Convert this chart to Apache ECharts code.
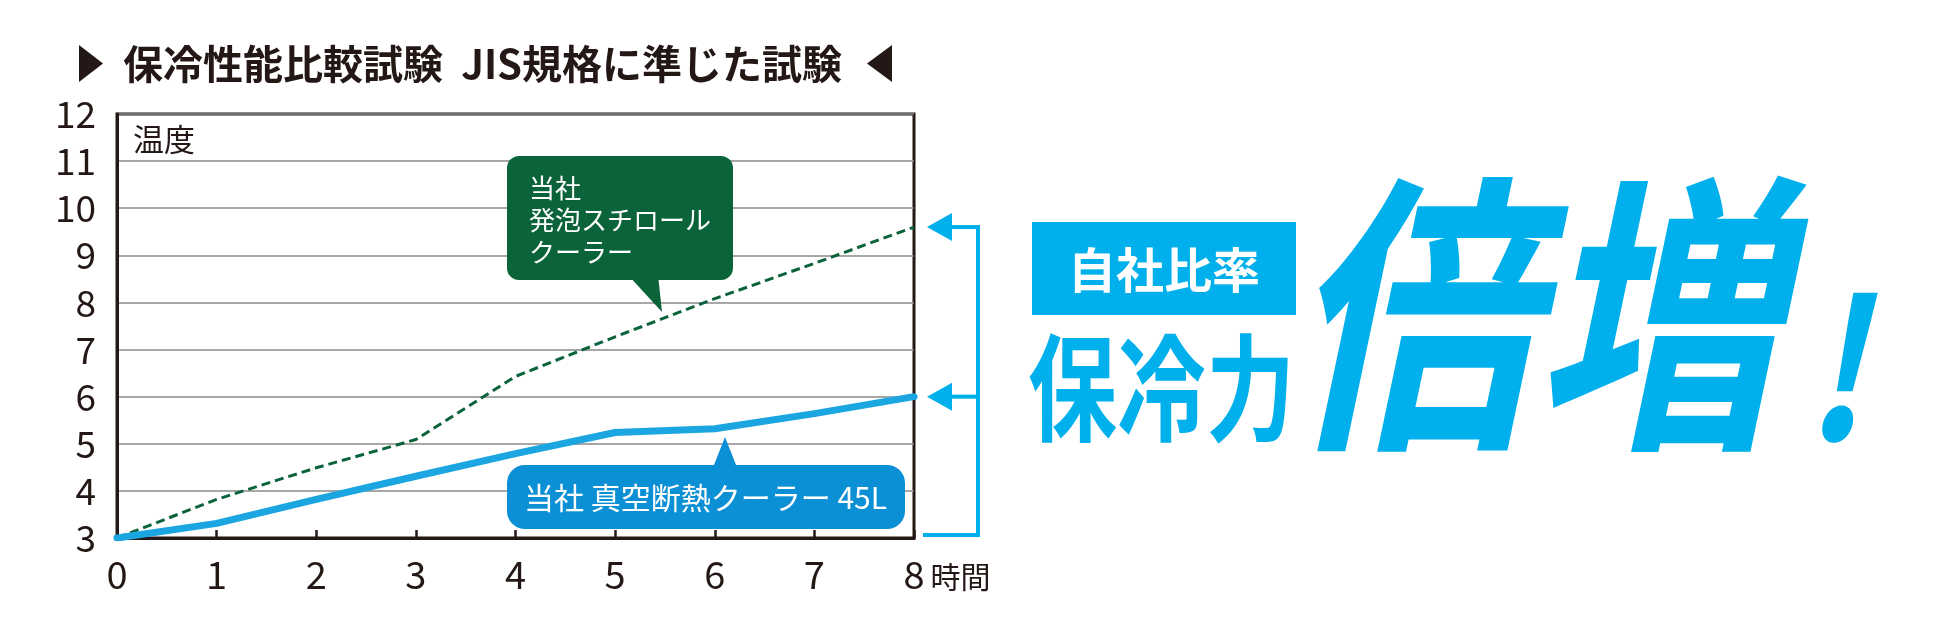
<!DOCTYPE html>
<html>
<head>
<meta charset="utf-8">
<script src="https://cdn.jsdelivr.net/npm/echarts@6/dist/echarts.min.js"></script>
<style>
html, body { margin: 0; padding: 0; background: #fff; }
#main { width: 1950px; height: 623px; }
</style>
</head>
<body>
<div id="main"></div>
<script>
// 経過時間（時間）
var hours = [0, 1, 2, 3, 4, 5, 6, 7, 8];
// 当社 発泡スチロールクーラー（温度）
var foamTemp = [3.0, 3.82, 4.49, 5.09, 6.43, 7.27, 8.08, 8.83, 9.6];
// 当社 真空断熱クーラー 45L（温度）
var vacuumTemp = [3.0, 3.31, 3.82, 4.31, 4.79, 5.24, 5.32, 5.64, 6.0];
var yTicks = [3, 12];

var FONT = '"Noto Sans CJK JP", "Noto Sans", sans-serif';
var CYAN = '#00b0ec';
var LINE_BLUE = '#1ba6e2';
var BOX_BLUE = '#0b8fd5';
var GREEN = '#0b633a';
var INK = '#231815';

function pairs(ys) {
    var out = [];
    for (var i = 0; i < hours.length; i++) {
        out.push([hours[i], ys[i]]);
    }
    return out;
}

var dom = document.getElementById('main');
var myChart = echarts.init(dom, null, { renderer: 'canvas' });

var option = {
    animation: false,
    backgroundColor: '#fff',
    title: {
        text: '保冷性能比較試験  JIS規格に準じた試験',
        left: 118,
        top: 39,
        textStyle: { fontFamily: FONT, fontSize: 40, fontWeight: 'bold', color: INK }
    },
    grid: {
        left: 117,
        right: 1036,
        top: 114,
        bottom: 85,
        show: true,
        borderColor: INK,
        borderWidth: 3
    },
    xAxis: {
        type: 'value',
        min: 0,
        max: 8,
        interval: 1,
        name: '時間',
        nameLocation: 'end',
        nameGap: 12,
        nameTextStyle: {
            fontFamily: FONT, fontSize: 30, color: INK,
            verticalAlign: 'top', padding: [24, 0, 0, 0]
        },
        axisLine: { show: true, lineStyle: { color: INK, width: 3 } },
        axisTick: { show: true, inside: true, length: 8, lineStyle: { color: INK, width: 2.5 } },
        axisLabel: { fontFamily: FONT, fontSize: 38, color: INK, margin: 18 },
        splitLine: { show: false }
    },
    yAxis: {
        type: 'value',
        min: yTicks[0],
        max: yTicks[1],
        interval: 1,
        axisLine: { show: true, lineStyle: { color: INK, width: 3 } },
        axisTick: { show: false },
        axisLabel: { fontFamily: FONT, fontSize: 37, color: INK, margin: 21 },
        splitLine: { show: true, lineStyle: { color: '#8a8a8a', width: 1.5 } }
    },
    series: [
        {
            name: '当社 発泡スチロールクーラー',
            type: 'line',
            data: pairs(foamTemp),
            symbol: 'none',
            z: 3,
            lineStyle: { color: GREEN, width: 3, type: [9, 5] }
        },
        {
            name: '当社 真空断熱クーラー 45L',
            type: 'line',
            data: pairs(vacuumTemp),
            symbol: 'none',
            z: 4,
            lineStyle: { color: LINE_BLUE, width: 7, cap: 'round', join: 'round' }
        }
    ]
};
myChart.setOption(option);

// 右側の矢印は各系列の終点から位置を取る
var last = hours.length - 1;
var pFoam = myChart.convertToPixel({ gridIndex: 0 }, [hours[last], foamTemp[last]]);
var pVac = myChart.convertToPixel({ gridIndex: 0 }, [hours[last], vacuumTemp[last]]);
var pBase = myChart.convertToPixel({ gridIndex: 0 }, [hours[last], yTicks[0]]);
var bx = 978;

function arrow(y) {
    return [
        { type: 'polygon', shape: { points: [[927, y], [952, y - 14], [952, y + 14]] }, style: { fill: CYAN } },
        { type: 'line', shape: { x1: 950, y1: y, x2: bx, y2: y }, style: { stroke: CYAN, lineWidth: 4 } }
    ];
}

var graphics = [
    // 見出しの三角
    { type: 'polygon', shape: { points: [[79, 45], [79, 82], [103, 63.5]] }, style: { fill: INK } },
    { type: 'polygon', shape: { points: [[892, 45], [892, 82], [867, 63.5]] }, style: { fill: INK } },
    { type: 'text', x: 133, y: 139, style: { text: '温度', fontFamily: FONT, fontSize: 31, fill: INK, verticalAlign: 'middle' } },

    // 発泡スチロール 吹き出し
    { type: 'polygon', z: 10, shape: { points: [[628, 275], [658, 275], [662, 312]] }, style: { fill: GREEN } },
    { type: 'rect', z: 10, shape: { x: 507, y: 156, width: 226, height: 124, r: 12 }, style: { fill: GREEN } },
    { type: 'text', z: 11, x: 529, y: 172, style: { text: '当社\n発泡スチロール\nクーラー', fontFamily: FONT, fontSize: 26, lineHeight: 32, fill: '#fff', verticalAlign: 'top' } },

    // 真空断熱 吹き出し
    { type: 'polygon', z: 10, shape: { points: [[712, 470], [738, 470], [725, 437]] }, style: { fill: BOX_BLUE } },
    { type: 'rect', z: 10, shape: { x: 507, y: 465, width: 398, height: 64, r: 18 }, style: { fill: BOX_BLUE } },
    { type: 'text', z: 11, x: 524, y: 498, style: { text: '当社 真空断熱クーラー 45L', fontFamily: FONT, fontSize: 30, fill: '#fff', verticalAlign: 'middle' } },

    // 右の括弧
    { type: 'line', shape: { x1: bx, y1: pFoam[1] - 2, x2: bx, y2: pBase[1] - 1 }, style: { stroke: CYAN, lineWidth: 4 } },
    { type: 'line', shape: { x1: 923, y1: pBase[1] - 3, x2: bx + 2, y2: pBase[1] - 3 }, style: { stroke: CYAN, lineWidth: 4 } },

    // 自社比率 / 保冷力 / 倍増！
    { type: 'rect', shape: { x: 1032, y: 222, width: 264, height: 93 }, style: { fill: CYAN } },
    { type: 'text', x: 1164, y: 270, style: { text: '自社比率', fontFamily: FONT, fontSize: 48, fontWeight: 'bold', fill: '#fff', align: 'center', verticalAlign: 'middle' } },
    { type: 'text', x: 1028, y: 330, scaleY: 1.3, style: { text: '保冷力', fontFamily: FONT, fontSize: 89, fontWeight: 'bold', fill: CYAN, verticalAlign: 'top' } },
    { type: 'text', x: 1288, y: 168, scaleY: 1.19, style: { text: '倍増', fontFamily: FONT, fontSize: 246, fontWeight: 'bold', fontStyle: 'italic', fill: CYAN, verticalAlign: 'top' } },
    { type: 'text', x: 1804, y: 463, scaleY: 1.18, style: { text: '!', fontFamily: FONT, fontSize: 164, fontWeight: 'bold', fontStyle: 'italic', fill: CYAN, verticalAlign: 'bottom' } }
];
graphics = graphics.concat(arrow(pFoam[1]), arrow(pVac[1]));

myChart.setOption({ graphic: graphics });
</script>
</body>
</html>
